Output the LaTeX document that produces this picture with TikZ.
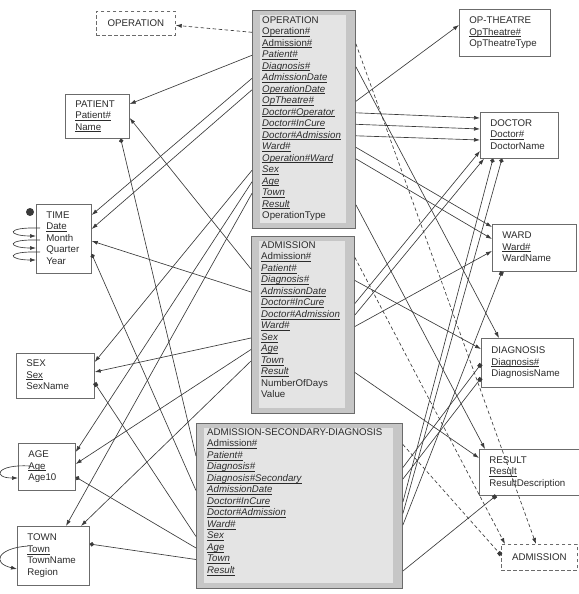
\documentclass[tikz,border=0pt]{standalone}
\usepackage{fontspec}
\setmainfont{Liberation Sans}
\usetikzlibrary{arrows.meta}

\definecolor{boxline}{HTML}{6B6B6B}
\definecolor{lk}{HTML}{3A3A3A}
\definecolor{txt}{HTML}{2B2B2B}
\definecolor{factgray}{HTML}{C6C6C6}
\definecolor{panelgray}{HTML}{E4E4E4}

\newcommand{\kattr}[1]{\underline{\smash{#1}}}
\newcommand{\rattr}[1]{\underline{\smash{\textit{#1}}}}

\begin{document}
\begin{tikzpicture}[
x=1pt, y=1pt,
every node/.style={
font=\fontsize{9.7}{11.5}\selectfont,
text=txt
},
dimbox/.style={
draw=boxline,
line width=0.7pt,
fill=white,
anchor=north west,
align=left,
inner xsep=10pt,
inner ysep=0pt,
execute at begin node=\strut,
execute at end node=\strut
},
ghostbox/.style={
draw=boxline,
line width=0.7pt,
dash pattern=on 3.5pt off 2.5pt,
fill=white,
anchor=north west,
inner sep=0pt
},
factbox/.style={
draw=boxline,
line width=0.9pt,
fill=factgray,
anchor=north west,
path picture={\fill[panelgray]
([shift={(8pt,-5pt)}]path picture bounding box.north west) rectangle
([shift={(-9pt,5pt)}]path picture bounding box.south east);}
},
facttext/.style={
anchor=north west,
inner sep=0pt,
align=left,
execute at begin node=\strut
},
ref/.style={
draw=lk,
line width=0.65pt,
-{Latex[length=6pt,width=4pt]}
},
dref/.style={
ref,
dash pattern=on 3.5pt off 2.5pt
},
dotref/.style={
draw=lk,
line width=0.65pt,
-{Circle[length=4.4pt]}
},
sqref/.style={
draw=lk,
line width=0.65pt,
-{Square[length=3.8pt]}
}
]

\useasboundingbox (0,0) rectangle (578,-594);


% Dimensions on the left

\node (opghost) [ghostbox, minimum width=79pt, minimum height=24pt] at (96,-11)
{OPERATION};

\node (patient) [dimbox, text width=44pt, minimum height=44pt] at (65,-94)
{PATIENT\\\kattr{Patient\#}\\\kattr{Name}};

\node (time) [dimbox, text width=35pt, minimum height=69pt] at (36,-204)
{TIME\\\kattr{Date}\\Month\\Quarter\\Year};

\node (timeroot) [circle, fill=lk, inner sep=0pt, minimum size=8pt]
at ([shift={(-6,-8)}]time.north west) {};

\node (sex) [dimbox, text width=58pt, minimum height=45pt] at (16,-353)
{SEX\\\kattr{Sex}\\SexName};

\node (age) [dimbox, text width=37pt, minimum height=47pt] at (18,-443)
{AGE\\\kattr{Age}\\Age10};

\node (town) [dimbox, text width=52pt, minimum height=59pt] at (17,-526)
{TOWN\\\kattr{Town}\\TownName\\Region};


% Dimensions on the right

\node (optheatre) [dimbox, text width=71pt, minimum height=47pt] at (459,-9)
{OP-THEATRE\\\kattr{OpTheatre\#}\\OpTheatreType};

\node (doctor) [dimbox, text width=58pt, minimum height=46pt] at (480,-112)
{DOCTOR\\\kattr{Doctor\#}\\DoctorName};

\node (ward) [dimbox, text width=64pt, minimum height=47pt] at (492,-224)
{WARD\\\kattr{Ward\#}\\WardName};

\node (diagnosis) [dimbox, text width=72pt, minimum height=49pt] at (481,-338)
{DIAGNOSIS\\\kattr{Diagnosis\#}\\DiagnosisName};

\node (result) [dimbox, text width=81pt, minimum height=46pt] at (479,-449)
{RESULT\\\kattr{Result}\\ResultDescription};

\node (adghost) [ghostbox, minimum width=76pt, minimum height=26pt] at (501,-544)
{ADMISSION};


% Facts

\node (opf) [factbox, minimum width=103pt, minimum height=218pt] at (252,-10) {};
\node (opftext) [facttext] at ([shift={(10,-6.2)}]opf.north west)
{
OPERATION\\
\kattr{Operation\#}\\
\kattr{Admission\#}\\
\rattr{Patient\#}\\
\rattr{Diagnosis\#}\\
\rattr{AdmissionDate}\\
\rattr{OperationDate}\\
\rattr{OpTheatre\#}\\
\rattr{Doctor\#Operator}\\
\rattr{Doctor\#InCure}\\
\rattr{Doctor\#Admission}\\
\rattr{Ward\#}\\
\rattr{Operation\#Ward}\\
\rattr{Sex}\\
\rattr{Age}\\
\rattr{Town}\\
\rattr{Result}\\
OperationType
};

\node (adf) [factbox, minimum width=103pt, minimum height=177pt] at (251,-236) {};
\node (adftext) [facttext] at ([shift={(10,-5.4)}]adf.north west)
{
ADMISSION\\
\kattr{Admission\#}\\
\rattr{Patient\#}\\
\rattr{Diagnosis\#}\\
\rattr{AdmissionDate}\\
\rattr{Doctor\#InCure}\\
\rattr{Doctor\#Admission}\\
\rattr{Ward\#}\\
\rattr{Sex}\\
\rattr{Age}\\
\rattr{Town}\\
\rattr{Result}\\
NumberOfDays\\
Value
};

\node (asd) [factbox, minimum width=206pt, minimum height=165pt] at (196,-423) {};
\node (asdtext) [facttext] at ([shift={(11,-5.4)}]asd.north west)
{
ADMISSION-SECONDARY-DIAGNOSIS\\
\kattr{Admission\#}\\
\rattr{Patient\#}\\
\rattr{Diagnosis\#}\\
\rattr{Diagnosis\#Secondary}\\
\rattr{AdmissionDate}\\
\rattr{Doctor\#InCure}\\
\rattr{Doctor\#Admission}\\
\rattr{Ward\#}\\
\rattr{Sex}\\
\rattr{Age}\\
\rattr{Town}\\
\rattr{Result}
};


% Time hierarchy

\draw[ref] ([shift={(4,-24)}]time.north west) .. controls +(-36,1) and +(-28,0) .. ([yshift=-32pt]time.north west);
\draw[ref] ([shift={(4,-36)}]time.north west) .. controls +(-36,1) and +(-28,0) .. ([yshift=-44pt]time.north west);
\draw[ref] ([shift={(4,-48)}]time.north west) .. controls +(-36,1) and +(-28,0) .. ([yshift=-56pt]time.north west);

\draw[ref] ([shift={(12,-23)}]age.north west) .. controls +(-34,2) and +(-26,0) .. ([yshift=-35pt]age.north west);

\draw[ref] ([shift={(11,-20)}]town.north west) .. controls +(-30,-2) and +(-26,6) .. ([yshift=-43pt]town.north west);


% OPERATION references

\draw[dref] ([yshift=-22.3pt]opf.north west) -- ([yshift=-2pt]opghost.east);
\draw[dref] ([yshift=-33.8pt]opf.north east) -- ([xshift=35pt]adghost.north west);
\draw[ref] ([yshift=-45.3pt]opf.north west) -- ([yshift=-10pt]patient.north east);
\draw[ref] ([yshift=-56.8pt]opf.north east) -- ([xshift=18pt]diagnosis.north west);
\draw[ref] ([yshift=-68.3pt]opf.north west) -- ([yshift=-11pt]time.north east);
\draw[ref] ([yshift=-79.8pt]opf.north west) -- ([yshift=-25pt]time.north east);
\draw[ref] ([yshift=-91.3pt]opf.north east) -- ([yshift=-16pt]optheatre.north west);
\draw[ref] ([yshift=-102.8pt]opf.north east) -- ([yshift=-6pt]doctor.north west);
\draw[ref] ([yshift=-114.3pt]opf.north east) -- ([yshift=-17pt]doctor.north west);
\draw[ref] ([yshift=-125.8pt]opf.north east) -- ([yshift=-28pt]doctor.north west);
\draw[ref] ([yshift=-137.3pt]opf.north east) -- ([yshift=-3pt]ward.north west);
\draw[ref] ([yshift=-148.8pt]opf.north east) -- ([yshift=-15pt]ward.north west);
\draw[ref] ([yshift=-160.3pt]opf.north west) -- ([yshift=-9pt]sex.north east);
\draw[ref] ([yshift=-171.8pt]opf.north west) -- ([yshift=-9pt]age.north east);
\draw[ref] ([yshift=-183.3pt]opf.north west) -- ([xshift=49pt]town.north west);
\draw[ref] ([yshift=-194.8pt]opf.north east) -- ([xshift=6pt]result.north west);


% ADMISSION references

\draw[dref] ([yshift=-21.5pt]adf.north east) -- ([xshift=4pt]adghost.north west);
\draw[ref] ([yshift=-33pt]adf.north west) -- ([yshift=-24pt]patient.north east);
\draw[ref] ([yshift=-44.5pt]adf.north east) -- ([yshift=-11pt]diagnosis.north west);
\draw[ref] ([yshift=-56pt]adf.north west) -- ([yshift=-37pt]time.north east);
\draw[ref] ([yshift=-67.5pt]adf.north east) -- ([yshift=-39pt]doctor.north west);
\draw[ref] ([yshift=-79pt]adf.north east) -- ([xshift=4pt]doctor.south west);
\draw[ref] ([yshift=-90.5pt]adf.north east) -- ([yshift=-27pt]ward.north west);
\draw[ref] ([yshift=-102pt]adf.north west) -- ([yshift=-19pt]sex.north east);
\draw[ref] ([yshift=-113.5pt]adf.north west) -- ([yshift=-21pt]age.north east);
\draw[ref] ([yshift=-125pt]adf.north west) -- ([xshift=64pt]town.north west);
\draw[ref] ([yshift=-136.5pt]adf.north east) -- ([yshift=-9pt]result.north west);


% ADMISSION-SECONDARY-DIAGNOSIS references

\draw[dotref] ([yshift=-33pt]asd.north west) -- ([xshift=-9pt]patient.south east);
\draw[dotref] ([yshift=-67.5pt]asd.north west) -- ([yshift=-50pt]time.north east);
\draw[sqref] ([yshift=-113.5pt]asd.north west) -- ([yshift=-30pt]sex.north east);
\draw[dotref] ([yshift=-125pt]asd.north west) -- ([yshift=-34pt]age.north east);
\draw[dotref] ([yshift=-136.5pt]asd.north west) -- ([yshift=-18pt]town.north east);
\draw[sqref, dash pattern=on 3.5pt off 2.5pt] ([yshift=-21.5pt]asd.north east) -- ([yshift=-11pt]adghost.north west);
\draw[sqref] ([yshift=-44.5pt]asd.north east) -- ([yshift=-26pt]diagnosis.north west);
\draw[sqref] ([yshift=-56pt]asd.north east) -- ([yshift=-40pt]diagnosis.north west);
\draw[dotref] ([yshift=-79pt]asd.north east) -- ([xshift=13pt]doctor.south west);
\draw[dotref] ([yshift=-90.5pt]asd.north east) -- ([xshift=22pt]doctor.south west);
\draw[sqref] ([yshift=-102pt]asd.north east) -- ([xshift=10pt]ward.south west);
\draw[sqref] ([yshift=-148pt]asd.north east) -- ([xshift=17pt]result.south west);


\end{tikzpicture}
\end{document}
